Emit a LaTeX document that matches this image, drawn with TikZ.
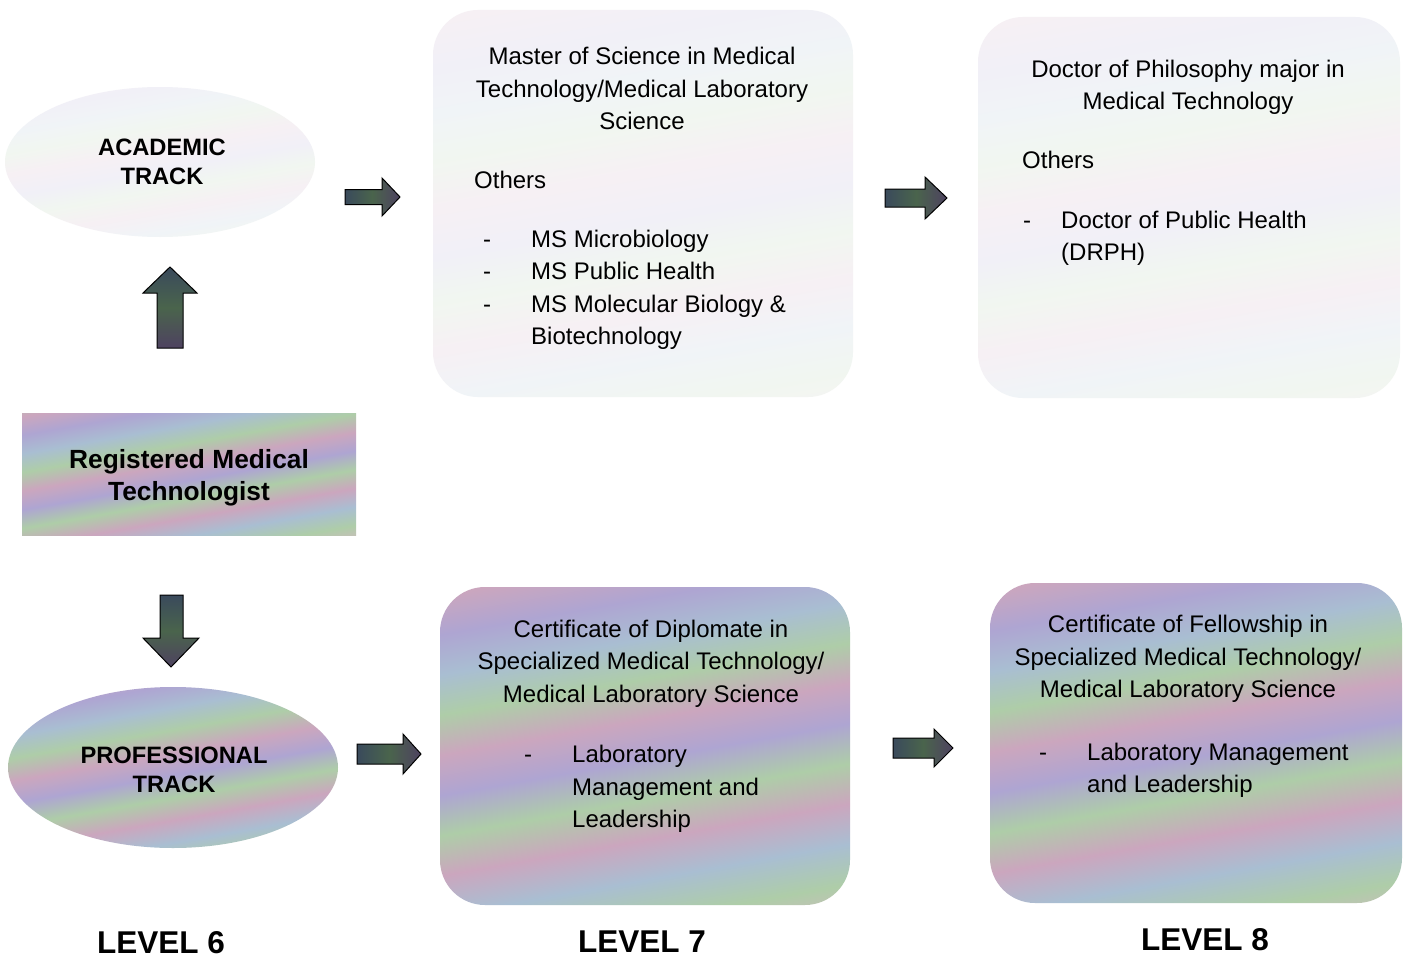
\documentclass[tikz,border=0pt]{standalone}
\usepackage{fontspec}
\setmainfont{Liberation Sans}
\usetikzlibrary{shapes.geometric}
\definecolor{bpk}{HTML}{CBA6BE}
\definecolor{bgr}{HTML}{AECDA8}
\definecolor{blv}{HTML}{AEA5D2}
\definecolor{bbl}{HTML}{A9BED2}
\definecolor{bpl}{HTML}{D4B8C2}
\colorlet{fpk}{bpk!17!white}
\colorlet{fgr}{bgr!17!white}
\colorlet{flv}{blv!17!white}
\colorlet{fbl}{bbl!17!white}
\colorlet{fpl}{bpl!17!white}
\pgfdeclarehorizontalshading{bands}{100bp}{color(0bp)=(bpk); color(6bp)=(bgr); color(12bp)=(blv); color(18bp)=(bpl); color(24bp)=(bgr); color(30bp)=(bbl); color(36bp)=(bpk); color(42bp)=(bgr); color(48bp)=(blv); color(54bp)=(bpk); color(60bp)=(bgr); color(66bp)=(bbl); color(72bp)=(blv); color(78bp)=(bpk); color(84bp)=(bgr); color(90bp)=(blv); color(96bp)=(bpk); color(100bp)=(bpk)}
\pgfdeclarehorizontalshading{fbands}{100bp}{color(0bp)=(fpk); color(6bp)=(fgr); color(12bp)=(flv); color(18bp)=(fpl); color(24bp)=(fgr); color(30bp)=(fbl); color(36bp)=(fpk); color(42bp)=(fgr); color(48bp)=(flv); color(54bp)=(fpk); color(60bp)=(fgr); color(66bp)=(fbl); color(72bp)=(flv); color(78bp)=(fpk); color(84bp)=(fgr); color(90bp)=(flv); color(96bp)=(fpk); color(100bp)=(fpk)}
\definecolor{arA}{HTML}{3A4A5C}
\definecolor{arB}{HTML}{4A644C}
\definecolor{arC}{HTML}{4E4260}
\begin{document}
\begin{tikzpicture}[x=1pt,y=-1pt,
  colorbox/.style={shade, shading=bands, shading angle=100, inner sep=0, outer sep=0},
  fadebox/.style={shade, shading=fbands, shading angle=100, inner sep=0, outer sep=0},
  body/.style={font=\fontsize{24}{32.5}\selectfont, inner sep=0, align=center},
  bodyl/.style={font=\fontsize{24}{32.5}\selectfont, inner sep=0, align=left, anchor=west},
  boldtxt/.style={font=\fontsize{23.7}{29.5}\selectfont\bfseries, inner sep=0, align=center},
  bigbold/.style={font=\fontsize{26.3}{32}\selectfont\bfseries, inner sep=0, align=center},
  leveltxt/.style={font=\fontsize{31.5}{36}\selectfont\bfseries, inner sep=0, anchor=base},
  harrow/.style={draw=black, line width=1, left color=arA, right color=arC, middle color=arB},
  varrow/.style={draw=black, line width=1, top color=arA, bottom color=arC, middle color=arB}]
\useasboundingbox (0,0) rectangle (1411,958);
\fill[white] (0,0) rectangle (1411,958);

% shapes
\node[fadebox, ellipse, minimum width=310, minimum height=150] (acad) at (160,162) {};
\node[fadebox, rectangle, rounded corners=45, minimum width=420, minimum height=387] (ms) at (643,203.5) {};
\node[fadebox, rectangle, rounded corners=45, minimum width=422, minimum height=381] (phd) at (1189,207.5) {};
\node[colorbox, rectangle, minimum width=334, minimum height=122] (rmt) at (189,474) {};
\node[colorbox, ellipse, minimum width=330, minimum height=161] (prof) at (173,767.5) {};
\node[colorbox, rectangle, rounded corners=45, minimum width=410, minimum height=318] (dip) at (645,746) {};
\node[colorbox, rectangle, rounded corners=45, minimum width=412, minimum height=320] (fel) at (1196,743) {};

% block arrows
\draw[varrow] (157,348) -- (157,293) -- (143,293) -- (170,267) -- (197,293) -- (183,293) -- (183,348) -- cycle;
\draw[varrow] (160,595) -- (183,595) -- (183,638) -- (199,638) -- (171,667) -- (143,638) -- (160,638) -- cycle;
\draw[harrow] (345,189.5) -- (382,189.5) -- (382,178) -- (400,197) -- (382,216) -- (382,204.5) -- (345,204.5) -- cycle;
\draw[harrow] (885,189) -- (925,189) -- (925,177) -- (947,198) -- (925,219) -- (925,207) -- (885,207) -- cycle;
\draw[harrow] (357,744) -- (403,744) -- (403,734) -- (421,754) -- (403,774) -- (403,764) -- (357,764) -- cycle;
\draw[harrow] (893,738) -- (934,738) -- (934,729) -- (953,748) -- (934,767) -- (934,758) -- (893,758) -- cycle;

% texts
\node[boldtxt] (acadt) at (162,162) {ACADEMIC\\TRACK};
\node[bigbold] (rmtt) at (189,478) {Registered Medical\\Technologist};
\node[boldtxt] (proft) at (174,770) {PROFESSIONAL\\TRACK};

\node[body] (mst) at (642,90.5) {\strut Master of Science in Medical\\\strut Technology/Medical Laboratory\\\strut Science};
\node[bodyl] (mso) at (474,182) {\strut Others};
\node[bodyl] (msd) at (483,273) {\strut -\\\strut -\\\strut -};
\node[bodyl] (msl) at (531,289.5) {\strut MS Microbiology\\\strut MS Public Health\\\strut MS Molecular Biology \&\\\strut Biotechnology};

\node[body] (phdt) at (1188,87) {\strut Doctor of Philosophy major in\\\strut Medical Technology};
\node[bodyl] (phdo) at (1022,162) {\strut Others};
\node[bodyl] (phdd) at (1023,222) {\strut -};
\node[bodyl] (phdl) at (1061,238) {\strut Doctor of Public Health\\\strut (DRPH)};

\node[body] (dipt) at (651,663) {\strut Certificate of Diplomate in\\\strut Specialized Medical Technology/\\\strut Medical Laboratory Science};
\node[bodyl] (dipd) at (524,756) {\strut -};
\node[bodyl] (dipl) at (572,788.5) {\strut Laboratory\\\strut Management and\\\strut Leadership};

\node[body] (felt) at (1188,658.5) {\strut Certificate of Fellowship in\\\strut Specialized Medical Technology/\\\strut Medical Laboratory Science};
\node[bodyl] (feld) at (1039,754) {\strut -};
\node[bodyl] (fell) at (1087,770) {\strut Laboratory Management\\\strut and Leadership};

\node[leveltxt] (l6) at (161,953) {LEVEL 6};
\node[leveltxt] (l7) at (642,952) {LEVEL 7};
\node[leveltxt] (l8) at (1205,950) {LEVEL 8};
\end{tikzpicture}
\end{document}
